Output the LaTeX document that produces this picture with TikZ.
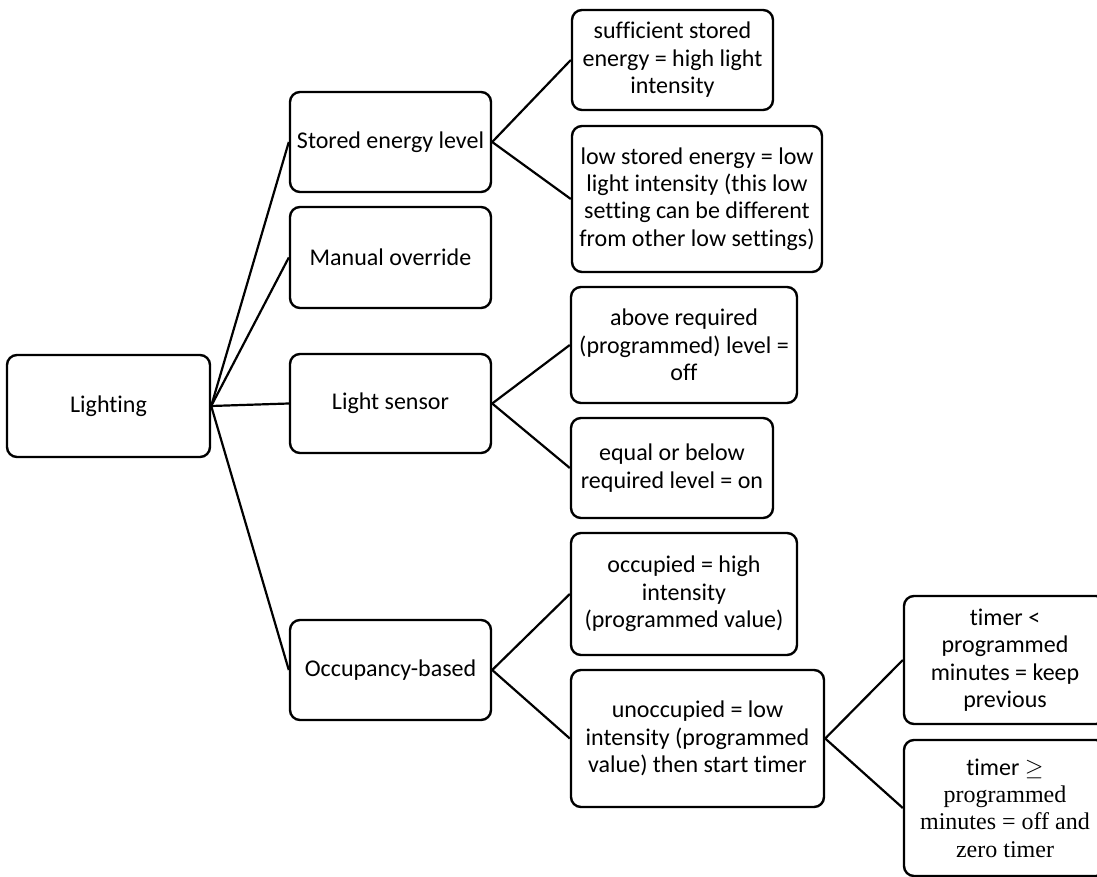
\documentclass[tikz,border=0pt]{standalone}
\usepackage{fontspec}
\setmainfont{Carlito}[Ligatures=NoCommon]
\newfontfamily\timesfont{Liberation Serif}
\usetikzlibrary{positioning}

\tikzset{
  box/.style={draw, line width=1.2pt, rounded corners=5pt, align=center,
    inner sep=0pt, font=\fontsize{12}{13.7}\selectfont},
  link/.style={line width=1.1pt}
}

\begin{document}
\begin{tikzpicture}[x=0.5pt, y=-0.5pt]
  \useasboundingbox (0,0) rectangle (1097,877);
  \clip (0,0) rectangle (1097,877);
  % root
  \node[box, minimum width=101.5pt, minimum height=51pt] (light) at (108.5,406) {Lighting};
  % first level
  \node[box, minimum width=100.5pt, minimum height=50pt] (stored) at (390.5,142) {Stored energy level};
  \node[box, minimum width=100.5pt, minimum height=50.5pt] (manual) at (390.5,257.5) {Manual override};
  \node[box, minimum width=100.5pt, minimum height=49.5pt] (sensor) at (390.5,403.5) {Light sensor};
  \node[box, minimum width=100.5pt, minimum height=50pt] (occup) at (390.5,670) {Occupancy-based};
  % second level
  \node[box, minimum width=100.5pt, minimum height=50pt] (suff) at (672.5,60)
    {sufficient stored\\energy = high light\\intensity};
  \node[box, minimum width=125pt, minimum height=73pt] (lowstored) at (697,199)
    {low stored energy = low\\light intensity (this low\\setting can be different\\from other low settings)};
  \node[box, minimum width=113pt, minimum height=58pt] (above) at (684,345)
    {above required\\(programmed) level =\\off};
  \node[box, minimum width=101pt, minimum height=50pt] (below) at (672,468)
    {equal or below\\required level = on};
  \node[box, minimum width=113pt, minimum height=61pt] (occd) at (684,594)
    {occupied = high\\intensity\\(programmed value)};
  \node[box, minimum width=126.5pt, minimum height=68.5pt] (unocc) at (697.5,738.5)
    {unoccupied = low\\intensity (programmed\\value) then start timer};
  % third level
  \node[box, minimum width=101pt, minimum height=64pt] (tless) at (1005,660)
    {timer <\\programmed\\minutes = keep\\previous};
  \node[box, minimum width=101pt, minimum height=68pt] (tmore) at (1005,808)
    {timer $\geq$\\\timesfont programmed\\\timesfont minutes = off and\\\timesfont zero timer};

  \draw[link] (light.east) -- (stored.west);
  \draw[link] (light.east) -- (manual.west);
  \draw[link] (light.east) -- (sensor.west);
  \draw[link] (light.east) -- (occup.west);
  \draw[link] (stored.east) -- (suff.west);
  \draw[link] (stored.east) -- (lowstored.west);
  \draw[link] (sensor.east) -- (above.west);
  \draw[link] (sensor.east) -- (below.west);
  \draw[link] (occup.east) -- (occd.west);
  \draw[link] (occup.east) -- (unocc.west);
  \draw[link] (unocc.east) -- (tless.west);
  \draw[link] (unocc.east) -- (tmore.west);
\end{tikzpicture}
\end{document}
